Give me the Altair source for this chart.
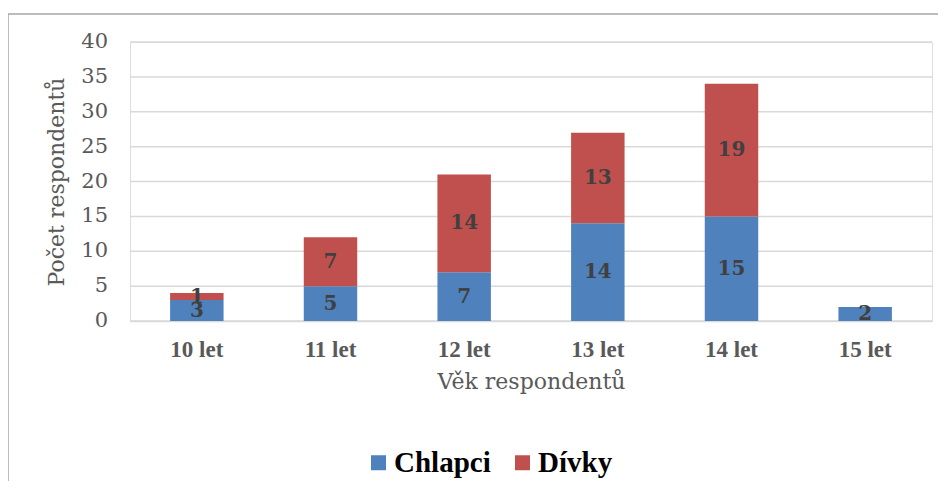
import altair as alt
import pandas as pd

ages = ["10 let", "11 let", "12 let", "13 let", "14 let", "15 let"]
chlapci = [3, 5, 7, 14, 15, 2]
divky = [1, 7, 14, 13, 19, 0]
series = ["Chlapci", "Dívky"]
colors = ["#4F81BD", "#C0504D"]
y_ticks = [0, 5, 10, 15, 20, 25, 30, 35, 40]

rows = []
for i, a in enumerate(ages):
    rows.append({"age": a, "sex": series[0], "n": chlapci[i], "ord": 0})
    rows.append({"age": a, "sex": series[1], "n": divky[i], "ord": 1})
df = pd.DataFrame(rows)
ticks_df = pd.DataFrame({"v": y_ticks})

W, H = 802, 279

base = alt.Chart(df).transform_stack(
    stack="n", groupby=["age"], as_=["y0", "y1"], sort=[alt.SortField("ord")]
).transform_calculate(mid="(datum.y0 + datum.y1) / 2")

x_axis = alt.Axis(
    title="Věk respondentů",
    labelAngle=0,
    labelFont="Liberation Serif",
    labelFontWeight="bold",
    labelFontSize=23,
    labelColor="#595959",
    labelPadding=17,
    ticks=False,
    domainColor="#D9D9D9",
    domainWidth=1.5,
    titleFont="DejaVu Serif",
    titleFontWeight="normal",
    titleFontSize=22,
    titleColor="#595959",
    titlePadding=10,
)
y_axis = alt.Axis(
    title="Počet respondentů",
    labels=False,
    grid=False,
    ticks=False,
    domain=False,
    titleFont="DejaVu Serif",
    titleFontWeight="normal",
    titleFontSize=22,
    titleColor="#595959",
    titlePadding=62,
)
x_scale = alt.Scale(paddingInner=0.6, paddingOuter=0.3)
y_scale = alt.Scale(domain=[0, 40], nice=False)

grid = alt.Chart(ticks_df).mark_rule(color="#D9D9D9", strokeWidth=1.5).encode(
    y=alt.Y("v:Q", scale=y_scale, axis=y_axis),
    x=alt.value(0),
    x2=alt.value(W),
)

tick_labels = alt.Chart(ticks_df).mark_text(
    font="DejaVu Serif", fontSize=21, color="#595959", align="right", baseline="middle"
).encode(
    y=alt.Y("v:Q", scale=y_scale),
    x=alt.value(-22),
    text="v:Q",
)

bars = base.mark_bar(stroke=None).encode(
    x=alt.X("age:N", sort=ages, scale=x_scale, axis=x_axis),
    y=alt.Y("y0:Q", scale=y_scale),
    y2="y1:Q",
    color=alt.Color(
        "sex:N",
        scale=alt.Scale(domain=series, range=colors),
        legend=alt.Legend(
            title=None,
            orient="none",
            direction="horizontal",
            legendX=234,
            legendY=406,
            symbolType="square",
            symbolSize=225,
            symbolStrokeWidth=0,
            labelFont="Liberation Serif",
            labelFontWeight="bold",
            labelFontSize=29,
            labelColor="#000000",
            labelOffset=1,
            columnPadding=17,
        ),
    ),
)

labels = base.transform_filter("datum.n > 0").mark_text(
    font="DejaVu Serif", fontWeight="bold", fontSize=20, color="#404040", baseline="middle"
).encode(
    x=alt.X("age:N", sort=ages, scale=x_scale),
    y=alt.Y("mid:Q", scale=y_scale),
    text="n:Q",
)

frame = alt.Chart(pd.DataFrame({"k": [0]})).mark_rect(
    fill=None, stroke="#A6A6A6", strokeWidth=1.5
).encode(
    x=alt.value(-122),
    x2=alt.value(W + 60),
    y=alt.value(-28),
    y2=alt.value(H + 300),
)

chart = alt.layer(frame, grid, tick_labels, bars, labels).properties(
    width=W,
    height=H,
    autosize=alt.AutoSizeParams(type="none"),
    padding={"left": 122, "top": 34, "right": 6, "bottom": 160},
).configure_view(stroke="#A6A6A6", strokeWidth=1.5).configure(background="white")

chart.save("out.html", embed_options={"renderer": "svg", "actions": False})
